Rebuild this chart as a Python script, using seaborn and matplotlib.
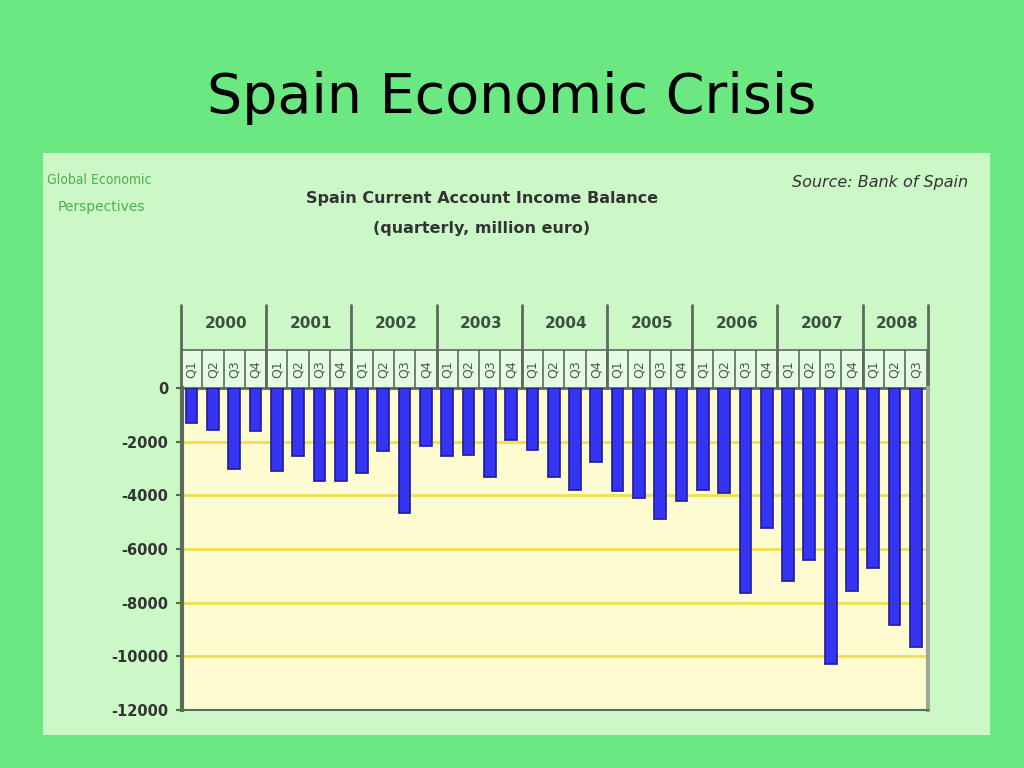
import numpy as np
import pandas as pd
import matplotlib
matplotlib.use("Agg")
import matplotlib.pyplot as plt
import matplotlib.transforms as mtransforms
from matplotlib.patches import Rectangle
import seaborn as sns

# ---------------------------------
# Data
# ---------------------------------
years = ["2000", "2001", "2002", "2003", "2004", "2005", "2006", "2007", "2008"]
quarters = ["Q1", "Q2", "Q3", "Q4"]
balance = [
    -1300, -1550, -3000, -1600,   # 2000
    -3100, -2550, -3450, -3450,   # 2001
    -3150, -2350, -4650, -2150,   # 2002
    -2550, -2500, -3300, -1950,   # 2003
    -2300, -3300, -3800, -2750,   # 2004
    -3850, -4100, -4900, -4200,   # 2005
    -3800, -3900, -7650, -5200,   # 2006
    -7200, -6400, -10300, -7550,  # 2007
    -6700, -8850, -9650,          # 2008
]
labels = [f"{y}{q}" for y in years for q in quarters][:len(balance)]
df = pd.DataFrame({"period": labels, "balance": balance})

# ---------------------------------
# Figure
# ---------------------------------
sns.set_style("white")
fig = plt.figure(figsize=(10.24, 7.68), dpi=100, facecolor="#6be882")

fig.text(0.5, 0.873, "Spain Economic Crisis", ha="center", va="center",
         fontsize=40, color="black", family="DejaVu Sans")

# inner picture panel (background axes)
bg = fig.add_axes([43 / 1024, 1 - 735 / 768, (990 - 43) / 1024, (735 - 153) / 768], zorder=0)
bg.set_facecolor("#ccf8c8")
bg.set_xticks([])
bg.set_yticks([])
for s in bg.spines.values():
    s.set_visible(False)

fig.text(47 / 1024, 1 - 180 / 768, "Global Economic", fontsize=10, color="#4cb04c",
         va="center", ha="left", fontstretch="condensed", zorder=3)
fig.text(58 / 1024, 1 - 207 / 768, "Perspectives", fontsize=10, color="#4cb04c",
         va="center", ha="left", zorder=3)
fig.text(482 / 1024, 1 - 199 / 768, "Spain Current Account Income Balance",
         fontsize=11.5, fontweight="bold", color="#333333", ha="center", va="center", zorder=3)
fig.text(482 / 1024, 1 - 228 / 768, "(quarterly, million euro)",
         fontsize=11.5, fontweight="bold", color="#333333", ha="center", va="center", zorder=3)
fig.text(968 / 1024, 1 - 182 / 768, "Source: Bank of Spain", fontsize=11.5,
         style="italic", color="#333333", ha="right", va="center", zorder=3)

ax = fig.add_axes([182 / 1024, 1 - 710 / 768, (928 - 182) / 1024, (710 - 388) / 768], zorder=2)
ax.set_facecolor("#fffbd0")

sns.barplot(data=df, x="period", y="balance", color="#3434f2", saturation=1,
            width=0.55, edgecolor="#1c1c9a", linewidth=1.2, ax=ax, zorder=3)

ax.set_ylim(-12000, 0)
ax.set_xlim(-0.45, len(balance) - 0.43)
ax.set_yticks(np.arange(-12000, 1, 2000))
ax.set_yticklabels([str(v) for v in np.arange(-12000, 1, 2000)], fontsize=10.5,
                   color="#333333", fontweight="semibold")
ax.set_xticks([])
ax.set_xlabel("")
ax.set_ylabel("")
ax.tick_params(axis="y", length=4, width=1.5, color="#556655", pad=6, left=True)
for v in range(-10000, 0, 2000):
    ax.axhline(v, color="#f2e04a", lw=2, zorder=1)

ax.spines["top"].set_visible(False)
ax.spines["left"].set_color("#5c6b5c")
ax.spines["left"].set_linewidth(3)
ax.spines["bottom"].set_color("#5c6b5c")
ax.spines["bottom"].set_linewidth(1.5)
ax.spines["right"].set_color("#9aa89a")
ax.spines["right"].set_linewidth(3)

# ---------------------------------
# Header: years and quarter labels above the zero line
# ---------------------------------
trans = mtransforms.blended_transform_factory(ax.transData, ax.transAxes)
n = len(balance)
x_end = n - 0.43
q_top = 1 + 38 / 322
yr_top = 1 + 83 / 322
ax.add_patch(Rectangle((-0.45, 1.0), x_end + 0.45, q_top - 1, transform=trans,
                       facecolor="#e4fbe4", edgecolor="none", clip_on=False, zorder=2))
ax.plot([-0.45, x_end], [q_top, q_top], transform=trans, color="#5c6b5c",
        lw=1.2, clip_on=False)
ax.plot([-0.45, x_end], [1.0, 1.0], transform=trans, color="#5c6b5c",
        lw=2, clip_on=False)
for i, lab in enumerate(labels):
    ax.text(i, 1 + 19 / 322, lab[-2:], transform=trans, rotation=90, ha="center",
            va="center", fontsize=9, color="#4a5a4a", clip_on=False)
    ax.plot([i + 0.5, i + 0.5], [1.0, q_top], transform=trans, color="#5c6b5c",
            lw=1.2, clip_on=False)
for k, y in enumerate(years):
    start = 4 * k - 0.5
    end = min(4 * k + 3.5, x_end)
    ax.plot([start, start], [1.0, yr_top], transform=trans, color="#5c6b5c",
            lw=2, clip_on=False)
    ax.text((start + end) / 2 + 0.1, 1 + 64 / 322, y, transform=trans, ha="center",
            va="center", fontsize=11, color="#3f4f3f", fontweight="semibold",
            clip_on=False)
ax.plot([x_end, x_end], [1.0, yr_top], transform=trans, color="#5c6b5c",
        lw=2, clip_on=False)

plt.savefig("out.png", dpi=100, facecolor=fig.get_facecolor())
plt.close()
